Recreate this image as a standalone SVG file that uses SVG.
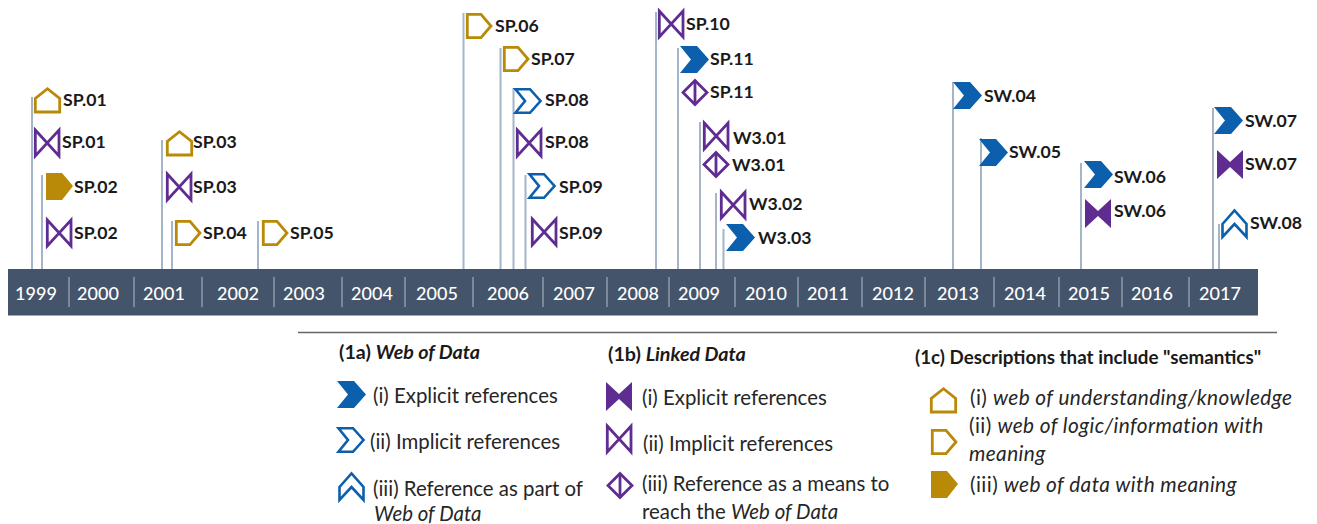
<svg xmlns="http://www.w3.org/2000/svg" width="1317" height="524" viewBox="0 0 1317 524">
<style>
text{font-family:"Lato","Carlito","Open Sans",sans-serif;fill:#1a1a1a;dominant-baseline:central}
.l{font-size:17.700px;font-weight:700;transform:translateY(-1px)}
.y{font-size:18px;fill:#fff;text-anchor:middle;font-weight:500}
.t{font-size:19.700px;font-weight:700}
.t2{font-size:18.800px;font-weight:700}
.d{font-size:20.400px;fill:#262626}
.e{font-size:20.800px;fill:#262626;letter-spacing:.4px}
.i{font-style:italic}
.stem{stroke:#a3b5c9;stroke-width:2;fill:none}
.tick{stroke:#8f9aaa;stroke-width:1.5}
.go{fill:none;stroke:#b98a08;stroke-width:2.800}
.gs{fill:#b98a08}
.po{fill:none;stroke:#5f2d91;stroke-width:2.800}
.ps{fill:#5f2d91}
.bo{fill:none;stroke:#0b5fad;stroke-width:2.600}
.bs{fill:#0b5fad}
</style>
<defs>
<path id="house" class="go" d="M1.300 25V11.500L13.500 1.700L25.700 11.500V25Z"/>
<path id="pent" class="go" d="M1.300 1.300H15L25 13L15 24.700H1.300Z"/>
<path id="pents" class="gs" d="M0 0H16L27 13L16 27H0Z"/>
<path id="chev" class="bo" d="M1.500 1.200H16L26.500 13L16 24.800H1.500L11 13Z"/>
<path id="chevs" class="bs" d="M0 0H17L29 13.500L17 27H0L11 13.500Z"/>
<path id="up" class="bo" d="M1.500 15L13.500 1.500L25.500 15V28L13.500 15L1.500 28Z"/>
<path id="bow" class="po" d="M1.300 2L25 28V2L1.300 28Z"/>
<path id="bows" class="ps" d="M0 0L13 12L26 0V29L13 17L0 29Z"/>
<g id="dia" class="po"><path d="M13 1.500L25 13.500L13 25.500L1 13.500Z"/><path d="M13 1.500V25.500"/></g>
</defs>

<g id="connectors">
<path class="stem" d="M32 97V269M42 175V269M162 140V269M172 221V269M258 221V269M463.500 13V269M500.500 48V269M513.500 88V269M525.500 175V269M656 12V269M678 48V269M700 122V269M716 193V269M723.500 229V269M953 82V269M981 138V269M1081 163V269M1213 108V269M1219 224V269"/>
</g>

<g id="timeline">
<rect x="8" y="269" width="1250" height="46.500" fill="#44546a"/>
<path class="tick" d="M69 277V307M134 277V307M202 277V307M274 277V307M342 277V307M405 277V307M473 277V307M543 277V307M607 277V307M669 277V307M735 277V307M798 277V307M862 277V307M925 277V307M994 277V307M1059 277V307M1122 277V307M1189 277V307"/>
<text class="y" x="36" y="293">1999</text><text class="y" x="98" y="293">2000</text><text class="y" x="164" y="293">2001</text><text class="y" x="238" y="293">2002</text><text class="y" x="304" y="293">2003</text><text class="y" x="372" y="293">2004</text><text class="y" x="437" y="293">2005</text><text class="y" x="508" y="293">2006</text><text class="y" x="574" y="293">2007</text><text class="y" x="638" y="293">2008</text><text class="y" x="699" y="293">2009</text><text class="y" x="766" y="293">2010</text><text class="y" x="828" y="293">2011</text><text class="y" x="893" y="293">2012</text><text class="y" x="958" y="293">2013</text><text class="y" x="1025" y="293">2014</text><text class="y" x="1089" y="293">2015</text><text class="y" x="1152" y="293">2016</text><text class="y" x="1220" y="293">2017</text>
</g>

<g id="n-sp01a"><use href="#house" x="34" y="87"/><text class="l" x="63" y="100">SP.01</text></g>
<g id="n-sp01b"><use href="#bow" x="34" y="128"/><text class="l" x="62" y="142">SP.01</text></g>
<g id="n-sp02a"><use href="#pents" x="46" y="173"/><text class="l" x="74" y="187">SP.02</text></g>
<g id="n-sp02b"><use href="#bow" x="46" y="218"/><text class="l" x="74" y="233">SP.02</text></g>
<g id="n-sp03a"><use href="#house" x="166" y="130"/><text class="l" x="193" y="142">SP.03</text></g>
<g id="n-sp03b"><use href="#bow" x="166" y="172"/><text class="l" x="193" y="187">SP.03</text></g>
<g id="n-sp04"><use href="#pent" x="175" y="220"/><text class="l" x="203" y="233">SP.04</text></g>
<g id="n-sp05"><use href="#pent" x="262" y="220"/><text class="l" x="290" y="233">SP.05</text></g>
<g id="n-sp06"><use href="#pent" x="466" y="13"/><text class="l" x="495" y="26">SP.06</text></g>
<g id="n-sp07"><use href="#pent" x="503" y="46"/><text class="l" x="531" y="59">SP.07</text></g>
<g id="n-sp08a"><use href="#chev" x="514" y="88"/><text class="l" x="545" y="100">SP.08</text></g>
<g id="n-sp08b"><use href="#bow" x="516" y="128"/><text class="l" x="545" y="142">SP.08</text></g>
<g id="n-sp09a"><use href="#chev" x="528" y="173"/><text class="l" x="559" y="187">SP.09</text></g>
<g id="n-sp09b"><use href="#bow" x="531" y="217"/><text class="l" x="559" y="233">SP.09</text></g>
<g id="n-sp10"><use href="#bow" x="658" y="9"/><text class="l" x="686" y="24">SP.10</text></g>
<g id="n-sp11a"><use href="#chevs" x="680" y="46"/><text class="l" x="710" y="59">SP.11</text></g>
<g id="n-sp11b"><use href="#dia" x="682" y="79"/><text class="l" x="710" y="92">SP.11</text></g>
<g id="n-w301a"><use href="#bow" x="703" y="121"/><text class="l" x="733" y="138">W3.01</text></g>
<g id="n-w301b"><use href="#dia" x="703" y="151"/><text class="l" x="732" y="165">W3.01</text></g>
<g id="n-w302"><use href="#bow" x="720" y="190"/><text class="l" x="749" y="204">W3.02</text></g>
<g id="n-w303"><use href="#chevs" x="726" y="224"/><text class="l" x="758" y="238">W3.03</text></g>
<g id="n-sw04"><use href="#chevs" x="953" y="82"/><text class="l" x="984" y="96">SW.04</text></g>
<g id="n-sw05"><use href="#chevs" x="979" y="139"/><text class="l" x="1009" y="152">SW.05</text></g>
<g id="n-sw06a"><use href="#chevs" x="1084" y="161"/><text class="l" x="1114" y="177">SW.06</text></g>
<g id="n-sw06b"><use href="#bows" x="1085" y="199"/><text class="l" x="1114" y="211">SW.06</text></g>
<g id="n-sw07a"><use href="#chevs" x="1214" y="107"/><text class="l" x="1245" y="121">SW.07</text></g>
<g id="n-sw07b"><use href="#bows" x="1217" y="150"/><text class="l" x="1245" y="164">SW.07</text></g>
<g id="n-sw08"><use href="#up" x="1221" y="209"/><text class="l" x="1250" y="223">SW.08</text></g>

<g id="legend">
<path d="M298 332.500H1277" stroke="#666" stroke-width="1.500"/>
<text class="t" x="339" y="351">(1a) <tspan class="i">Web of Data</tspan></text>
<text class="t" x="608" y="353">(1b) <tspan class="i">Linked Data</tspan></text>
<text class="t2" x="915" y="356">(1c) Descriptions that include "semantics"</text>

<g id="k-1a-i"><use href="#chevs" x="337" y="381"/><text class="d" x="373" y="395">(i) Explicit references</text></g>
<g id="k-1a-ii"><use href="#chev" x="337" y="427"/><text class="d" x="370" y="441">(ii) Implicit references</text></g>
<g id="k-1a-iii"><use href="#up" x="338" y="472"/><text class="d" x="373" y="488">(iii) Reference as part of</text><text class="d i" x="374" y="513">Web of Data</text></g>
<g id="k-1b-i"><use href="#bows" x="606" y="382"/><text class="d" x="642" y="397">(i) Explicit references</text></g>
<g id="k-1b-ii"><use href="#bow" x="606" y="424"/><text class="d" x="643" y="443">(ii) Implicit references</text></g>
<g id="k-1b-iii"><use href="#dia" x="607" y="472"/><text class="d" x="642" y="483">(iii) Reference as a means to</text><text class="d" x="642" y="511">reach the <tspan class="i">Web of Data</tspan></text></g>
<g id="k-1c-i"><use href="#house" x="930" y="387"/><text class="e" x="970" y="396">(i) <tspan class="i">web of understanding/knowledge</tspan></text></g>
<g id="k-1c-ii"><use href="#pent" x="931" y="429"/><text class="e" x="969" y="424">(ii) <tspan class="i">web of logic/information with</tspan></text><text class="e i" x="969" y="452">meaning</text></g>
<g id="k-1c-iii"><use href="#pents" x="931" y="471"/><text class="e" x="970" y="483">(iii) <tspan class="i">web of data with meaning</tspan></text></g>
</g>
</svg>
